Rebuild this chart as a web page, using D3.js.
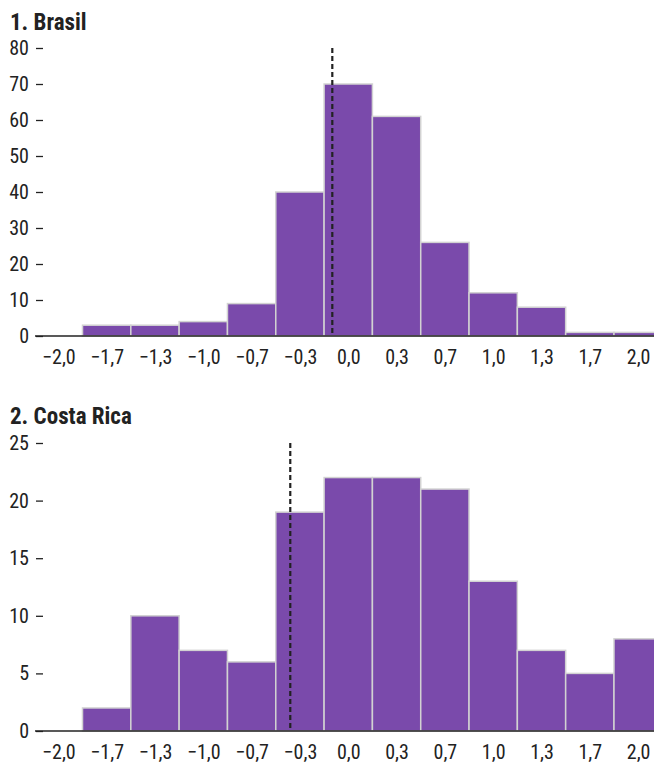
<!DOCTYPE html>
<html>
<head>
<meta charset="utf-8">
<script src="https://cdn.jsdelivr.net/npm/d3@7"></script>
<style>
  body { margin: 0; background: #fff; overflow: hidden; }
  svg { display: block; }
  text { font-family: "Liberation Sans Narrow", "Roboto Condensed", "Arial Narrow", "DejaVu Sans Condensed", sans-serif; fill: #222; }
</style>
</head>
<body>
<svg id="chart"></svg>
<script>
// bin centres (width 1/3) and their printed tick labels
const binCenters = [-2, -5/3, -4/3, -1, -2/3, -1/3, 0, 1/3, 2/3, 1, 4/3, 5/3, 2];
const tickLabels = ['−2,0', '−1,7', '−1,3', '−1,0', '−0,7', '−0,3', '0,0', '0,3', '0,7', '1,0', '1,3', '1,7', '2,0'];

const brasilCounts = [0, 3, 3, 4, 9, 40, 70, 61, 26, 12, 8, 1, 1];
const brasilTicks = [0, 10, 20, 30, 40, 50, 60, 70, 80];
const brasilMean = -0.11;

const costaRicaCounts = [0, 2, 10, 7, 6, 19, 22, 22, 21, 13, 7, 5, 8];
const costaRicaTicks = [0, 5, 10, 15, 20, 25];
const costaRicaMean = -0.40;

const W = 654, H = 766, BIN = 1 / 3;
const BAR_COLOR = '#7a4aab';

const svg = d3.select('#chart').attr('width', W).attr('height', H);

const x = d3.scaleLinear()
	.domain([-2 - BIN / 2, 2 + BIN / 2])
	.range([34.2, 662.3]);

function drawPanel(title, counts, ticks, mean, top, bottom, titleY) {
	const g = svg.append('g');
	const y = d3.scaleLinear()
		.domain([0, d3.max(ticks)])
		.range([bottom, top]);

	g.append('text')
		.attr('x', 10).attr('y', titleY)
		.attr('font-size', '23px').attr('font-weight', 'bold')
		.text(title);

	// bars
	g.selectAll('rect.bar')
		.data(counts.map((c, i) => ({ c: c, x: binCenters[i] })).filter(d => d.c > 0))
		.enter().append('rect')
		.attr('class', 'bar')
		.attr('x', d => x(d.x - BIN / 2))
		.attr('width', d => x(d.x + BIN / 2) - x(d.x - BIN / 2))
		.attr('y', d => y(d.c))
		.attr('height', d => y(0) - y(d.c))
		.attr('fill', BAR_COLOR)
		.attr('stroke', '#d2d2d2')
		.attr('stroke-width', 1.5);

	// y axis: ticks only
	const yAxis = g.append('g')
		.attr('transform', 'translate(43,0)')
		.call(d3.axisLeft(y).tickValues(ticks).tickSize(7).tickPadding(7));
	yAxis.select('.domain').remove();
	yAxis.selectAll('line').attr('stroke', '#222').attr('stroke-width', 1.3);
	yAxis.selectAll('text').attr('font-size', '20px').style('fill', '#222');

	// baseline
	g.append('line')
		.attr('x1', 35).attr('x2', W)
		.attr('y1', y(0)).attr('y2', y(0))
		.attr('stroke', '#222').attr('stroke-width', 1.5);

	// x axis labels at bin centres
	const xAxis = g.append('g')
		.attr('transform', `translate(0,${y(0)})`)
		.call(d3.axisBottom(x).tickValues(binCenters).tickFormat((d, i) => tickLabels[i]).tickSize(0).tickPadding(14));
	xAxis.select('.domain').remove();
	xAxis.selectAll('text').attr('font-size', '20px').style('fill', '#222');

	// mean line
	g.append('line')
		.attr('x1', x(mean)).attr('x2', x(mean))
		.attr('y1', y(d3.max(ticks))).attr('y2', y(0))
		.attr('stroke', '#222').attr('stroke-width', 2.2)
		.attr('stroke-dasharray', '5,3');
}

drawPanel('1. Brasil', brasilCounts, brasilTicks, brasilMean, 48, 336, 30);
drawPanel('2. Costa Rica', costaRicaCounts, costaRicaTicks, costaRicaMean, 443, 731, 424);
</script>
</body>
</html>
